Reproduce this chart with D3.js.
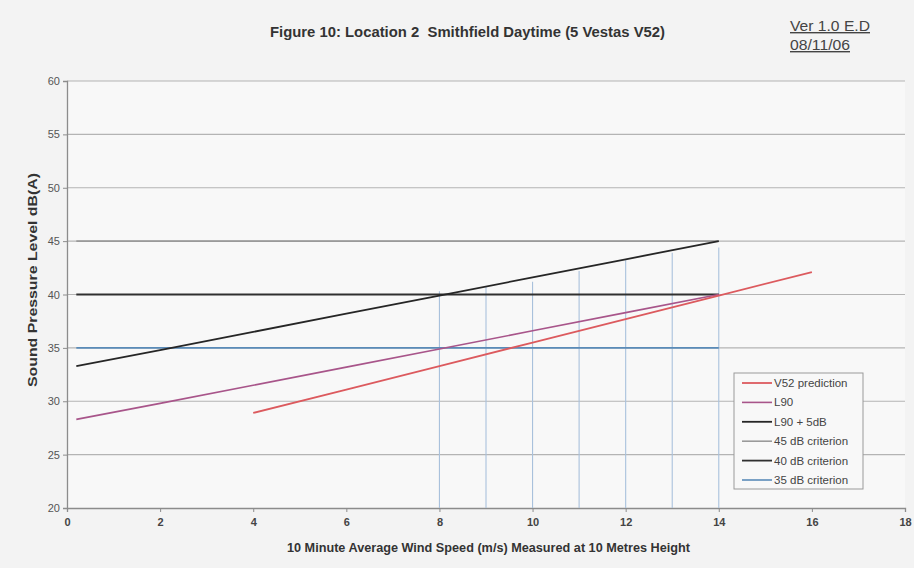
<!DOCTYPE html>
<html>
<head>
<meta charset="utf-8">
<script src="https://cdn.jsdelivr.net/npm/d3@7"></script>
<style>
  body { margin: 0; background: #f3f3f3; }
  svg { display: block; font-family: "Liberation Sans", Arial, sans-serif; }
  text { white-space: pre; }
</style>
</head>
<body>
<div id="chart"></div>
<script>
// ---------------- data ----------------
const v52Speed = [4, 6, 8, 10, 12, 14, 16];
const v52Level = [28.9, 31.1, 33.3, 35.5, 37.7, 39.9, 42.1];

const l90Speed = [0.2, 2, 4, 6, 8, 10, 12, 14];
const l90Level = [28.3, 29.8, 31.5, 33.2, 34.9, 36.6, 38.3, 40.0];
const l90p5Level = [33.3, 34.8, 36.5, 38.2, 39.9, 41.6, 43.3, 45.0];

const criterionSpeed = [0.2, 14];
const crit45 = [45, 45];
const crit40 = [40, 40];
const crit35 = [35, 35];

// thin blue vertical lines from the axis up
const dropSpeed = [8, 9, 10, 11, 12, 13, 14];
const dropTop = [40.3, 40.7, 41.2, 42.2, 43.2, 43.9, 44.4];

const xTicks = [0, 2, 4, 6, 8, 10, 12, 14, 16, 18];
const yTicks = [20, 25, 30, 35, 40, 45, 50, 55, 60];

const series = [
    { name: "V52 prediction", x: v52Speed, y: v52Level, color: "#dc5a5e", width: 1.8 },
    { name: "L90", x: l90Speed, y: l90Level, color: "#a8558a", width: 1.6 },
    { name: "L90 + 5dB", x: l90Speed, y: l90p5Level, color: "#262626", width: 1.8 },
    { name: "45 dB criterion", x: criterionSpeed, y: crit45, color: "#9a9a9a", width: 1.6 },
    { name: "40 dB criterion", x: criterionSpeed, y: crit40, color: "#303030", width: 1.8 },
    { name: "35 dB criterion", x: criterionSpeed, y: crit35, color: "#5a8bb8", width: 1.6 }
];

// ---------------- layout ----------------
const W = 914, H = 568;
const margin = { top: 81, right: 9, bottom: 60, left: 67 };
const width = W - margin.left - margin.right;
const height = H - margin.top - margin.bottom;

const svg = d3.select("#chart").append("svg")
    .attr("width", W)
    .attr("height", H);

svg.append("rect").attr("width", W).attr("height", H).attr("fill", "#f3f3f3");

const g = svg.append("g")
    .attr("transform", "translate(" + margin.left + "," + margin.top + ")");

g.append("rect").attr("width", width).attr("height", height).attr("fill", "#f8f8f8");

const x = d3.scaleLinear().domain([0, 18]).range([0, width]);
const y = d3.scaleLinear().domain([20, 60]).range([height, 0]);

// horizontal gridlines
g.selectAll(".grid")
    .data(yTicks.slice(1))
    .enter().append("line")
    .attr("x1", 0).attr("x2", width)
    .attr("y1", d => y(d)).attr("y2", d => y(d))
    .attr("stroke", "#b4b4b4")
    .attr("stroke-width", 1.2);

// axes
const xAxis = g.append("g")
    .attr("transform", "translate(0," + height + ")")
    .call(d3.axisBottom(x).tickValues(xTicks).tickSize(4).tickPadding(6));
const yAxis = g.append("g")
    .call(d3.axisLeft(y).tickValues(yTicks).tickSize(4).tickPadding(3));

[xAxis, yAxis].forEach(a => {
    a.select(".domain").attr("stroke", "#8c8c8c").attr("stroke-width", 1.3);
    a.selectAll(".tick line").attr("stroke", "#8c8c8c");
    a.selectAll(".tick text").attr("fill", "#555").style("font-size", "11px");
});
xAxis.selectAll(".tick text").style("font-weight", "bold").attr("fill", "#444");

// drop lines
g.selectAll(".drop")
    .data(dropSpeed.map((s, i) => ({ s: s, top: dropTop[i] })))
    .enter().append("line")
    .attr("x1", d => x(d.s)).attr("x2", d => x(d.s))
    .attr("y1", y(20)).attr("y2", d => y(d.top))
    .attr("stroke", "#a9c1dc")
    .attr("stroke-width", 1.1);

// series lines
const line = d3.line()
    .x(d => x(d[0]))
    .y(d => y(d[1]));

// draw criteria first, then the sloping lines on top
const drawOrder = [3, 4, 5, 1, 2, 0];
drawOrder.forEach(i => {
    const s = series[i];
    g.append("path")
        .datum(s.x.map((v, j) => [v, s.y[j]]))
        .attr("d", line)
        .attr("fill", "none")
        .attr("stroke", s.color)
        .attr("stroke-width", s.width);
});

// legend
const legend = g.append("g")
    .attr("transform", "translate(" + (734 - margin.left) + "," + (373 - margin.top) + ")");

legend.append("rect")
    .attr("width", 129).attr("height", 116)
    .attr("fill", "#f8f8f8")
    .attr("stroke", "#9a9a9a")
    .attr("stroke-width", 1);

const item = legend.selectAll(".item")
    .data(series)
    .enter().append("g")
    .attr("transform", (d, i) => "translate(0," + (10 + i * 19.4) + ")");

item.append("line")
    .attr("x1", 8).attr("x2", 38)
    .attr("y1", 0).attr("y2", 0)
    .attr("stroke", d => d.color)
    .attr("stroke-width", d => d.width);

item.append("text")
    .attr("x", 40)
    .attr("dy", "0.35em")
    .attr("fill", "#444")
    .style("font-size", "11.5px")
    .text(d => d.name);

// titles
svg.append("text")
    .attr("x", 270).attr("y", 37)
    .attr("textLength", 395)
    .attr("lengthAdjust", "spacingAndGlyphs")
    .style("font-size", "14px")
    .style("font-weight", "bold")
    .attr("fill", "#333")
    .text("Figure 10: Location 2  Smithfield Daytime (5 Vestas V52)");

svg.append("text")
    .attr("x", 790).attr("y", 31)
    .attr("textLength", 80)
    .attr("lengthAdjust", "spacingAndGlyphs")
    .style("font-size", "14px")
    .style("text-decoration", "underline")
    .attr("fill", "#444")
    .text("Ver 1.0 E.D");

svg.append("text")
    .attr("x", 790).attr("y", 50)
    .attr("textLength", 60)
    .attr("lengthAdjust", "spacingAndGlyphs")
    .style("font-size", "14px")
    .style("text-decoration", "underline")
    .attr("fill", "#444")
    .text("08/11/06");

svg.append("text")
    .attr("x", 287).attr("y", 552)
    .attr("textLength", 403)
    .attr("lengthAdjust", "spacingAndGlyphs")
    .style("font-size", "12.5px")
    .style("font-weight", "bold")
    .attr("fill", "#333")
    .text("10 Minute Average Wind Speed (m/s) Measured at 10 Metres Height");

svg.append("text")
    .attr("transform", "translate(37,387) rotate(-90)")
    .attr("textLength", 214)
    .attr("lengthAdjust", "spacingAndGlyphs")
    .style("font-size", "13px")
    .style("font-weight", "bold")
    .attr("fill", "#333")
    .text("Sound Pressure Level dB(A)");
</script>
</body>
</html>
